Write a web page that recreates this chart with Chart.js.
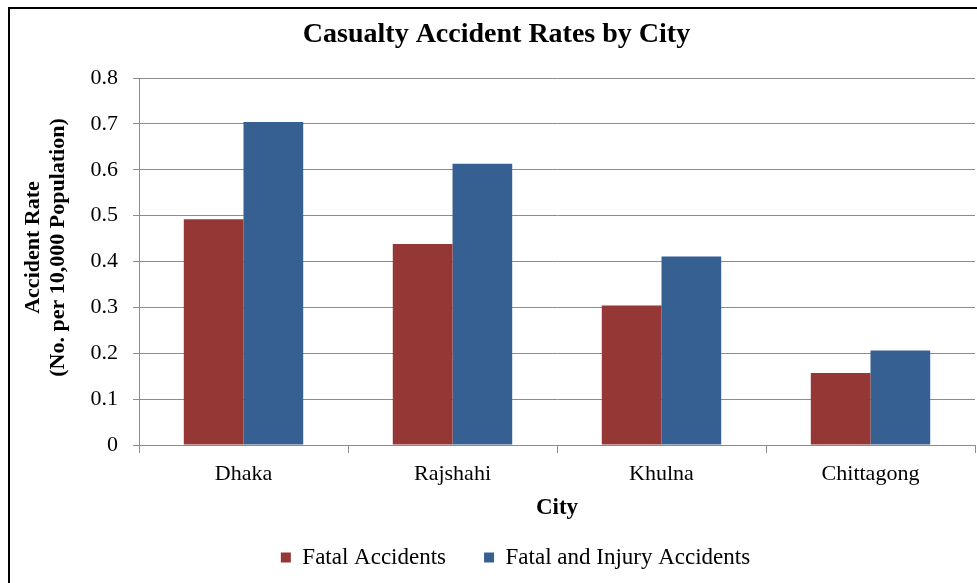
<!DOCTYPE html>
<html>
<head>
<meta charset="utf-8">
<script src="https://cdn.jsdelivr.net/npm/chart.js@4.4.0/dist/chart.umd.min.js"></script>
<style>
  html, body { margin: 0; padding: 0; background: #fff; }
  #wrap { position: relative; width: 977px; height: 583px; overflow: hidden; }
  #frame { position: absolute; left: 8px; top: 7px; width: 1000px; height: 600px; border-left: 2px solid #000; border-top: 2px solid #000; }
  canvas { position: absolute; left: 0; top: 0; }
</style>
</head>
<body>
<div id="wrap">
  <div id="frame"></div>
  <canvas id="chart" width="977" height="583"></canvas>
</div>
<script>
// data
const cities = ['Dhaka', 'Rajshahi', 'Khulna', 'Chittagong'];
const fatalRates = [0.492, 0.438, 0.304, 0.157];
const fatalInjuryRates = [0.704, 0.613, 0.411, 0.206];
const seriesNames = ['Fatal Accidents', 'Fatal and Injury Accidents'];
const yTicks = [0, 0.1, 0.2, 0.3, 0.4, 0.5, 0.6, 0.7, 0.8];
const yTitleLines = ['Accident Rate', '(No. per 10,000 Population)'];

const serif = "'Liberation Serif', 'Times New Roman', serif";
const gridGray = '#8c8c8c';

// nudge title + legend a bit right like in the excel original
const shiftBoxes = {
  id: 'shiftBoxes',
  afterLayout(chart) {
    chart.titleBlock.left += 9;
    chart.titleBlock.right += 9;
    chart.legend.left += 28;
    chart.legend.right += 28;
  }
};

// y axis title, drawn by hand so it can sit a little above the plot middle
const yTitle = {
  id: 'yTitle',
  afterDraw(chart) {
    const c = chart.ctx;
    const area = chart.chartArea;
    const midY = (area.top + area.bottom) / 2 - 14;
    c.save();
    c.fillStyle = '#000';
    c.font = 'bold 22px ' + serif;
    c.textAlign = 'center';
    c.textBaseline = 'middle';
    yTitleLines.forEach((line, i) => {
      c.save();
      c.translate(33 + i * 25, midY);
      c.rotate(-Math.PI / 2);
      c.fillText(line, 0, 0);
      c.restore();
    });
    c.restore();
  }
};

const ctx = document.getElementById('chart').getContext('2d');
new Chart(ctx, {
  type: 'bar',
  data: {
    labels: cities,
    datasets: [{
      label: seriesNames[0],
      data: fatalRates,
      backgroundColor: '#953735'
    }, {
      label: seriesNames[1],
      data: fatalInjuryRates,
      backgroundColor: '#376092'
    }]
  },
  plugins: [shiftBoxes, yTitle],
  options: {
    responsive: false,
    animation: false,
    layout: { padding: { left: 0, right: 2, top: 0, bottom: 4 } },
    datasets: {
      bar: { categoryPercentage: 2 / 3.5, barPercentage: 1.0 }
    },
    plugins: {
      tooltip: { enabled: false },
      title: {
        display: true,
        text: 'Casualty Accident Rates by City',
        color: '#000',
        font: { family: serif, size: 28, weight: 'bold' },
        padding: { top: 17.5, bottom: 26.9 }
      },
      legend: {
        position: 'bottom',
        labels: {
          color: '#000',
          font: { family: serif, size: 23 },
          boxWidth: 10,
          boxHeight: 10,
          padding: 38,
          useBorderRadius: false
        }
      }
    },
    scales: {
      x: {
        grid: { display: true, offset: true, drawOnChartArea: false, color: gridGray, tickLength: 8 },
        border: { color: gridGray },
        ticks: { color: '#000', font: { family: serif, size: 22 }, padding: 8 },
        title: {
          display: true,
          text: 'City',
          color: '#000',
          font: { family: serif, size: 23, weight: 'bold' },
          padding: { top: 2, bottom: -14 }
        },
        afterFit: s => { s.height = 63; }
      },
      y: {
        min: 0,
        max: 0.8,
        afterBuildTicks: s => { s.ticks = yTicks.map(v => ({ value: v })); },
        grid: { color: gridGray, tickLength: 6 },
        border: { color: gridGray },
        ticks: {
          color: '#000',
          font: { family: serif, size: 22 },
          padding: 15,
          callback: v => String(Math.round(v * 10) / 10)
        },
        title: { display: false },
        afterFit: s => { s.width = 139; }
      }
    }
  }
});
</script>
</body>
</html>
